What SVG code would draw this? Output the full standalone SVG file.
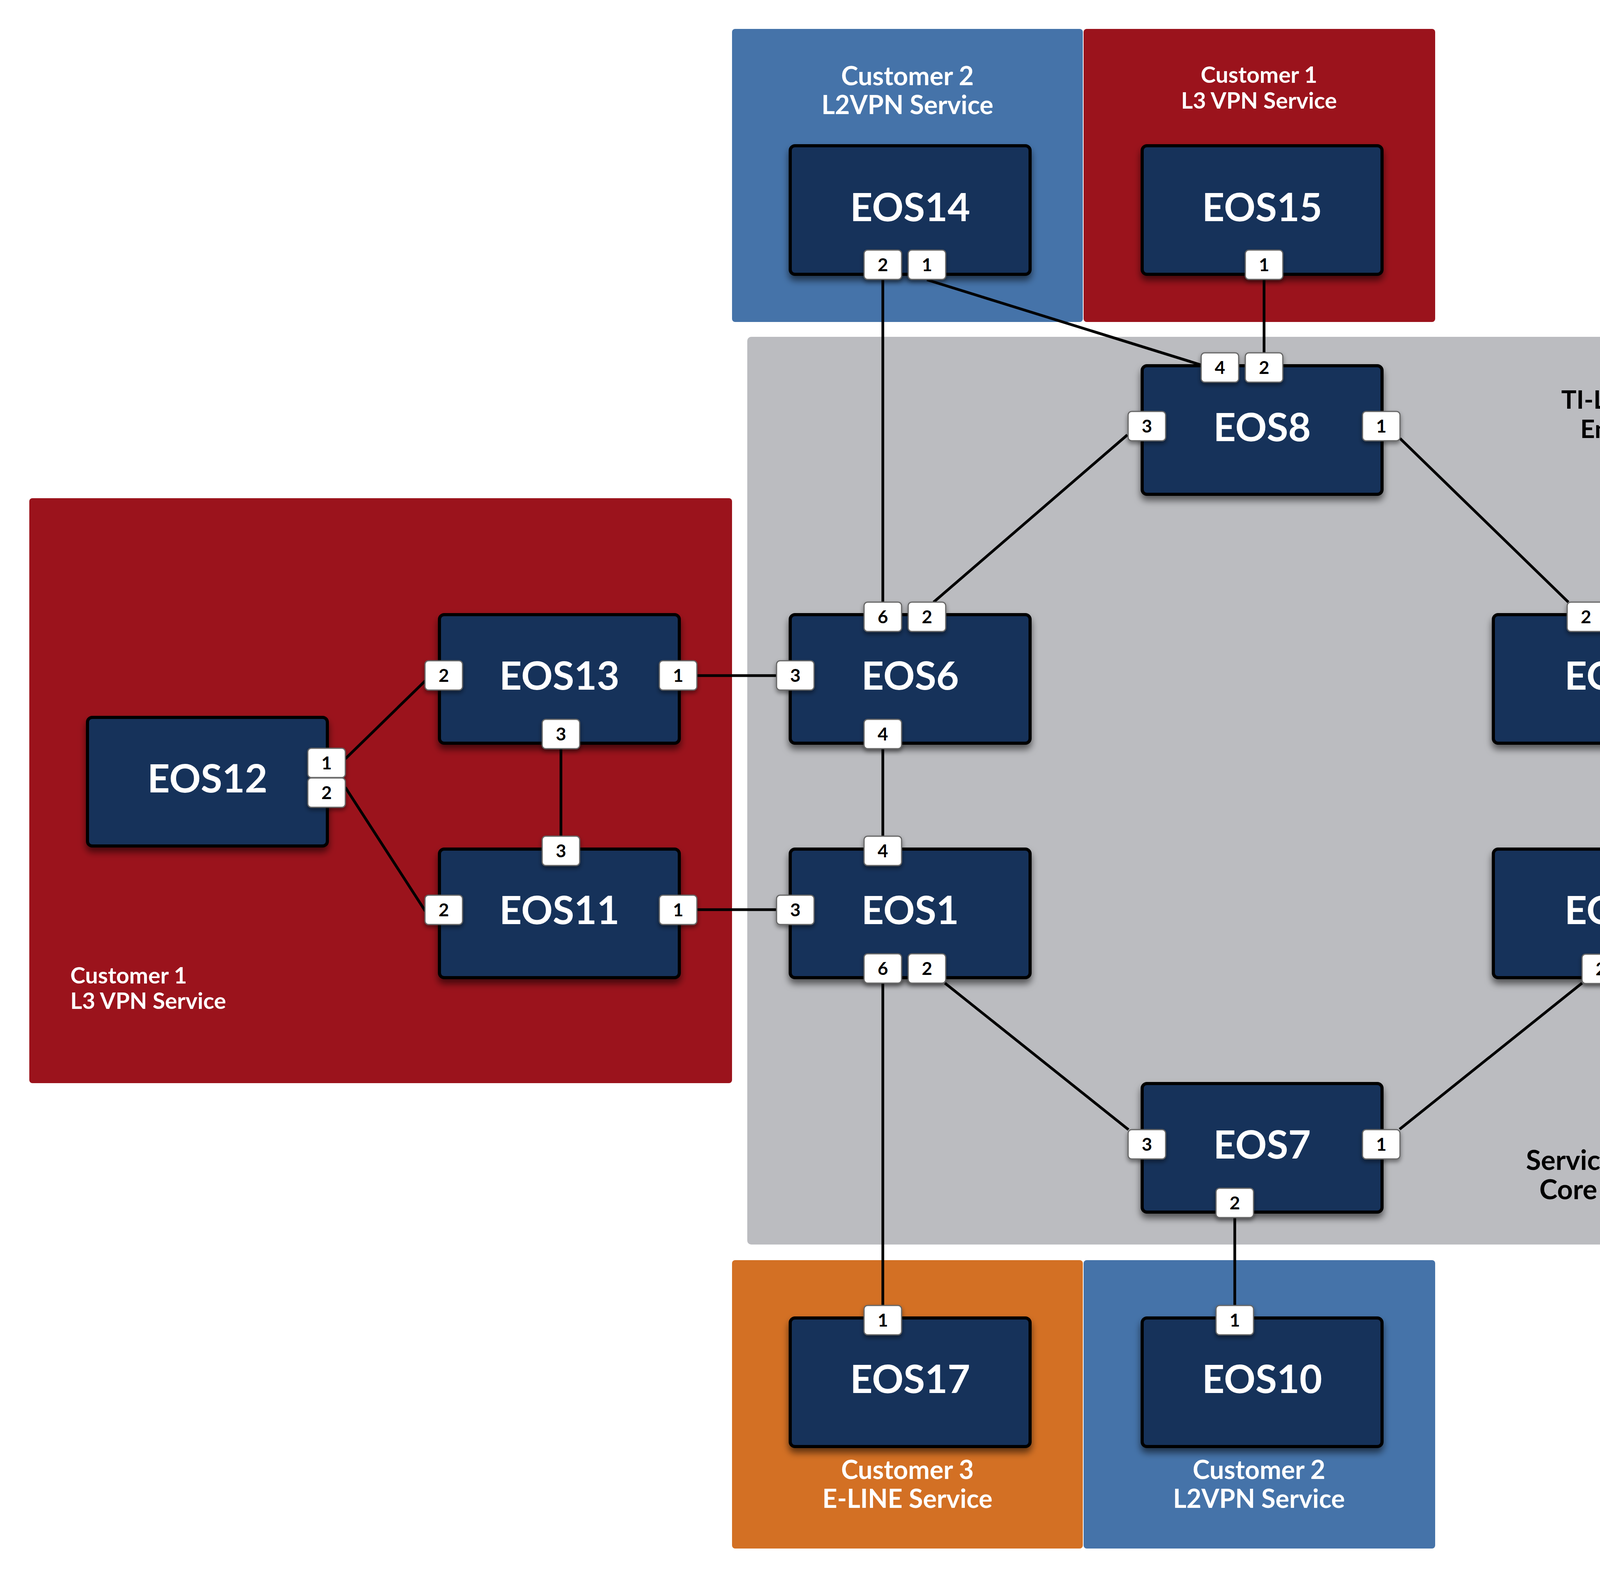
<svg xmlns="http://www.w3.org/2000/svg" width="5550" height="4041" viewBox="0 0 5550 4041">
<defs>
<filter id="sh" x="-20%" y="-20%" width="140%" height="150%">
<feDropShadow dx="0" dy="12" stdDeviation="9" flood-color="#000" flood-opacity="0.55"/>
</filter>
<filter id="psh" x="-30%" y="-30%" width="160%" height="170%">
<feDropShadow dx="0" dy="6" stdDeviation="6" flood-color="#000" flood-opacity="0.45"/>
</filter>
<style>
.blue{fill:#4573A9}
.red{fill:#9B131C}
.orange{fill:#D37024}
.gray{fill:#BBBCC0}
.box{fill:#17305A;stroke:#000;stroke-width:8;filter:url(#sh)}
.name{font-family:Lato,"Liberation Sans",sans-serif;font-weight:700;font-size:100px;fill:#fff;text-anchor:middle}
.port rect{fill:#fff;stroke:#666;stroke-width:3;filter:url(#psh)}
.port text{font-family:Lato,"Liberation Sans",sans-serif;font-weight:700;font-size:46px;fill:#000;text-anchor:middle}
.lbl{font-family:Lato,"Liberation Sans",sans-serif;font-weight:700;fill:#fff;text-anchor:middle}
.lft{text-anchor:start}
.l66{font-size:66px}
.l58{font-size:58px}
.dark{font-family:Lato,"Liberation Sans",sans-serif;font-weight:700;font-size:70px;fill:#000;text-anchor:middle}
.d66{font-size:65px}
.conn line{stroke:#000;stroke-width:7;stroke-linecap:butt}
</style>
</defs>
<rect width="5550" height="4041" fill="#fff"/>

<g id="regions">
<g id="core"><rect class="gray" x="1913" y="862" width="2622" height="2323" rx="10"/>
<text class="dark d66" x="4161" y="1046">TI-LFA FRR</text><text class="dark d66" x="4161" y="1121">Enabled</text>
<text class="dark" x="4161" y="2994">Service Provider</text><text class="dark" x="4161" y="3069">Core Network</text></g>
<g id="c2-top"><rect class="blue" x="1874" y="74" width="898" height="750" rx="8"/>
<text class="lbl l66" x="2323" y="218">Customer 2</text><text class="lbl l66" x="2323" y="292">L2VPN Service</text></g>
<g id="c1-top"><rect class="red" x="2774" y="74" width="900" height="750" rx="8"/>
<text class="lbl l58" x="3223" y="212">Customer 1</text><text class="lbl l58" x="3223" y="278">L3 VPN Service</text></g>
<g id="c3-top"><rect class="orange" x="4575" y="75" width="898" height="739" rx="8"/>
<text class="lbl l66" x="5024" y="218">Customer 3</text><text class="lbl l66" x="5024" y="292">E-LINE Service</text></g>
<g id="c2-right"><rect class="blue" x="4575" y="1275" width="898" height="748" rx="8"/>
<text class="lbl l66" x="5024" y="1419">Customer 2</text><text class="lbl l66" x="5024" y="1493">L2VPN Service</text></g>
<g id="c1-left"><rect class="red" x="75" y="1275" width="1799" height="1497" rx="8"/>
<text class="lbl l58 lft" x="180" y="2517">Customer 1</text><text class="lbl l58 lft" x="180" y="2582">L3 VPN Service</text></g>
<g id="c3-bottom"><rect class="orange" x="1874" y="3225" width="898" height="738" rx="8"/>
<text class="lbl l66" x="2323" y="3785">Customer 3</text><text class="lbl l66" x="2323" y="3859">E-LINE Service</text></g>
<g id="c2-bottom"><rect class="blue" x="2774" y="3225" width="900" height="738" rx="8"/>
<text class="lbl l66" x="3223" y="3785">Customer 2</text><text class="lbl l66" x="3223" y="3859">L2VPN Service</text></g>
</g>

<g id="connectors" class="conn">
<line x1="2260" y1="716" x2="2260" y2="1540"/>
<line x1="2373" y1="716" x2="3075" y2="934"/>
<line x1="3236" y1="716" x2="3236" y2="903"/>
<line x1="5040" y1="716" x2="4220" y2="1541"/>
<line x1="3584" y1="1122" x2="4015" y2="1541"/>
<line x1="2886" y1="1113" x2="2390" y2="1541"/>
<line x1="1784" y1="1729" x2="1988" y2="1729"/>
<line x1="1784" y1="2328" x2="1988" y2="2328"/>
<line x1="1436" y1="1916" x2="1436" y2="2140"/>
<line x1="884" y1="1942" x2="1089" y2="1742"/>
<line x1="884" y1="2015" x2="1089" y2="2332"/>
<line x1="2260" y1="1916" x2="2260" y2="2140"/>
<line x1="2260" y1="2516" x2="2260" y2="3341"/>
<line x1="2419" y1="2516" x2="2889" y2="2891"/>
<line x1="3583" y1="2890" x2="4050" y2="2516"/>
<line x1="3161" y1="3116" x2="3161" y2="3341"/>
<line x1="4172" y1="1916" x2="4172" y2="2141"/>
<line x1="4483" y1="1735" x2="4689" y2="1687"/>
<line x1="4457" y1="2254" x2="4715" y2="1804"/>
</g>

<g id="EOS14"><rect class="box" x="2023" y="373" width="614" height="329" rx="12"/><text class="name" x="2330" y="566">EOS14</text>
<g class="port"><rect x="2212" y="640" width="96" height="75" rx="9"/><text x="2260" y="694">2</text></g>
<g class="port"><rect x="2325" y="640" width="96" height="75" rx="9"/><text x="2373" y="694">1</text></g></g>

<g id="EOS15"><rect class="box" x="2924" y="373" width="614" height="329" rx="12"/><text class="name" x="3231" y="566">EOS15</text>
<g class="port"><rect x="3188" y="640" width="96" height="75" rx="9"/><text x="3236" y="694">1</text></g></g>

<g id="EOS16"><rect class="box" x="4723" y="373" width="614" height="329" rx="12"/><text class="name" x="5030" y="566">EOS16</text>
<g class="port"><rect x="4988" y="640" width="96" height="75" rx="9"/><text x="5036" y="694">1</text></g></g>

<g id="EOS8"><rect class="box" x="2924" y="936" width="614" height="329" rx="12"/><text class="name" x="3231" y="1129">EOS8</text>
<g class="port"><rect x="3075" y="903" width="96" height="75" rx="9"/><text x="3123" y="957">4</text></g>
<g class="port"><rect x="3188" y="903" width="96" height="75" rx="9"/><text x="3236" y="957">2</text></g>
<g class="port"><rect x="2888" y="1053" width="96" height="75" rx="9"/><text x="2936" y="1107">3</text></g>
<g class="port"><rect x="3488" y="1053" width="96" height="75" rx="9"/><text x="3536" y="1107">1</text></g></g>

<g id="EOS6"><rect class="box" x="2023" y="1573" width="614" height="329" rx="12"/><text class="name" x="2330" y="1765">EOS6</text>
<g class="port"><rect x="2212" y="1541" width="96" height="75" rx="9"/><text x="2260" y="1595">6</text></g>
<g class="port"><rect x="2325" y="1541" width="96" height="75" rx="9"/><text x="2373" y="1595">2</text></g>
<g class="port"><rect x="1988" y="1691" width="96" height="75" rx="9"/><text x="2036" y="1745">3</text></g>
<g class="port"><rect x="2212" y="1841" width="96" height="75" rx="9"/><text x="2260" y="1895">4</text></g></g>

<g id="EOS4"><rect class="box" x="3823" y="1573" width="614" height="329" rx="12"/><text class="name" x="4130" y="1765">EOS4</text>
<g class="port"><rect x="4012" y="1541" width="96" height="75" rx="9"/><text x="4060" y="1595">2</text></g>
<g class="port"><rect x="4124" y="1541" width="96" height="75" rx="9"/><text x="4172" y="1595">6</text></g>
<g class="port"><rect x="4387" y="1691" width="96" height="75" rx="9"/><text x="4435" y="1745">1</text></g>
<g class="port"><rect x="4124" y="1841" width="96" height="75" rx="9"/><text x="4172" y="1895">5</text></g></g>

<g id="EOS9"><rect class="box" x="4723" y="1573" width="614" height="329" rx="12"/><text class="name" x="5030" y="1765">EOS9</text>
<g class="port"><rect x="4688" y="1653" width="96" height="75" rx="9"/><text x="4736" y="1707">1</text></g>
<g class="port"><rect x="4688" y="1729" width="96" height="75" rx="9"/><text x="4736" y="1783">2</text></g></g>

<g id="EOS13"><rect class="box" x="1125" y="1573" width="614" height="329" rx="12"/><text class="name" x="1432" y="1765">EOS13</text>
<g class="port"><rect x="1088" y="1691" width="96" height="75" rx="9"/><text x="1136" y="1745">2</text></g>
<g class="port"><rect x="1688" y="1691" width="96" height="75" rx="9"/><text x="1736" y="1745">1</text></g>
<g class="port"><rect x="1388" y="1841" width="96" height="75" rx="9"/><text x="1436" y="1895">3</text></g></g>

<g id="EOS12"><rect class="box" x="224" y="1836" width="614" height="329" rx="12"/><text class="name" x="531" y="2028">EOS12</text>
<g class="port"><rect x="788" y="1915" width="96" height="75" rx="9"/><text x="836" y="1969">1</text></g>
<g class="port"><rect x="788" y="1991" width="96" height="75" rx="9"/><text x="836" y="2045">2</text></g></g>

<g id="EOS11"><rect class="box" x="1125" y="2173" width="614" height="329" rx="12"/><text class="name" x="1432" y="2365">EOS11</text>
<g class="port"><rect x="1388" y="2140" width="96" height="75" rx="9"/><text x="1436" y="2194">3</text></g>
<g class="port"><rect x="1088" y="2291" width="96" height="75" rx="9"/><text x="1136" y="2345">2</text></g>
<g class="port"><rect x="1688" y="2291" width="96" height="75" rx="9"/><text x="1736" y="2345">1</text></g></g>

<g id="EOS1"><rect class="box" x="2023" y="2173" width="614" height="329" rx="12"/><text class="name" x="2330" y="2365">EOS1</text>
<g class="port"><rect x="2212" y="2140" width="96" height="75" rx="9"/><text x="2260" y="2194">4</text></g>
<g class="port"><rect x="1988" y="2291" width="96" height="75" rx="9"/><text x="2036" y="2345">3</text></g>
<g class="port"><rect x="2212" y="2441" width="96" height="75" rx="9"/><text x="2260" y="2495">6</text></g>
<g class="port"><rect x="2325" y="2441" width="96" height="75" rx="9"/><text x="2373" y="2495">2</text></g></g>

<g id="EOS3"><rect class="box" x="3823" y="2173" width="614" height="329" rx="12"/><text class="name" x="4130" y="2365">EOS3</text>
<g class="port"><rect x="4124" y="2141" width="96" height="75" rx="9"/><text x="4172" y="2195">5</text></g>
<g class="port"><rect x="4387" y="2254" width="96" height="75" rx="9"/><text x="4435" y="2308">1</text></g>
<g class="port"><rect x="4050" y="2442" width="96" height="75" rx="9"/><text x="4098" y="2496">2</text></g></g>

<g id="EOS7"><rect class="box" x="2924" y="2773" width="614" height="329" rx="12"/><text class="name" x="3231" y="2965">EOS7</text>
<g class="port"><rect x="2888" y="2891" width="96" height="75" rx="9"/><text x="2936" y="2945">3</text></g>
<g class="port"><rect x="3488" y="2891" width="96" height="75" rx="9"/><text x="3536" y="2945">1</text></g>
<g class="port"><rect x="3113" y="3041" width="96" height="75" rx="9"/><text x="3161" y="3095">2</text></g></g>

<g id="EOS17"><rect class="box" x="2023" y="3373" width="614" height="329" rx="12"/><text class="name" x="2330" y="3565">EOS17</text>
<g class="port"><rect x="2212" y="3341" width="96" height="75" rx="9"/><text x="2260" y="3395">1</text></g></g>

<g id="EOS10"><rect class="box" x="2924" y="3373" width="614" height="329" rx="12"/><text class="name" x="3231" y="3565">EOS10</text>
<g class="port"><rect x="3113" y="3341" width="96" height="75" rx="9"/><text x="3161" y="3395">1</text></g></g>
</svg>
